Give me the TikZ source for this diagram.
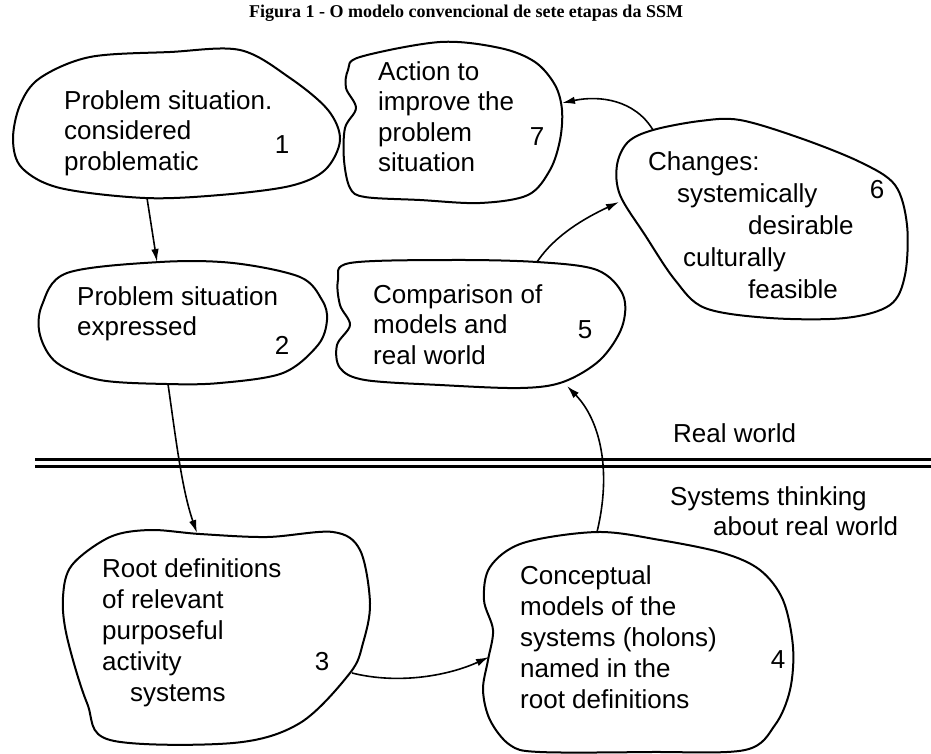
\documentclass[tikz,border=0pt]{standalone}
\usepackage{fontspec}
\setmainfont{Liberation Sans}
\newfontfamily\captionfont{Liberation Serif}
\usepackage{tikz}
\usetikzlibrary{arrows.meta}

\begin{document}
\begin{tikzpicture}[x=1pt, y=-1pt,
    font=\fontsize{26}{30.5}\selectfont,
    blob/.style={draw, line width=2pt, line join=round},
    txt/.style={anchor=north west, inner sep=0pt, align=left},
    num/.style={inner sep=0pt},
    flow/.style={line width=1.6pt, -{Latex[length=13pt, width=7.5pt]}}]
  \useasboundingbox (0,0) rectangle (931,753);

  \node[font=\captionfont\bfseries\fontsize{18}{20}\selectfont]
    (title) at (466,13) {Figura 1 - O modelo convencional de sete etapas da SSM};

  % the seven stages
  \draw[blob] plot[smooth cycle, tension=0.55] coordinates {
    (40,78) (90,57) (170,52) (240,50) (290,78) (328,110) (340,140)
    (325,170) (290,186) (220,195) (145,198) (60,188) (22,168) (13,140) (20,105)};
  \draw[blob] plot[smooth cycle, tension=0.55] coordinates {
    (67,273) (160,262) (233,263) (300,277) (322,300) (327,320) (318,345)
    (283,373) (220,383) (167,384) (100,380) (57,363) (40,335) (42,305)};
  \draw[blob] plot[smooth cycle, tension=0.55] coordinates {
    (110,537) (150,530) (200,534) (267,537) (333,532) (360,550) (370,603)
    (363,643) (350,673) (300,723) (233,743) (110,740) (87,703) (67,637)
    (63,597) (72,565)};
  \draw[blob] plot[smooth cycle, tension=0.55] coordinates {
    (597,532) (660,540) (723,553) (760,570) (783,600) (793,647) (790,690)
    (775,725) (745,750) (650,752) (540,752) (510,745) (490,720) (483,690)
    (488,660) (493,630) (484,600) (490,567) (523,543)};
  \draw[blob] plot[smooth cycle, tension=0.55] coordinates {
    (350,263) (450,260) (537,262) (597,270) (623,295) (622,327) (600,360)
    (563,382) (520,388) (440,385) (365,380) (340,368) (337,345) (350,325)
    (340,305) (338,280)};
  \draw[blob] plot[smooth cycle, tension=0.55] coordinates {
    (653,130) (700,121) (740,120) (800,138) (860,162) (895,185) (907,225)
    (905,275) (890,305) (845,318) (770,318) (705,308) (675,280) (645,235)
    (620,195) (617,165) (628,142)};
  \draw[blob] plot[smooth cycle, tension=0.55] coordinates {
    (360,57) (440,42) (500,48) (535,62) (555,85) (562,110) (560,140)
    (550,170) (528,195) (480,203) (420,200) (365,197) (350,188) (344,160)
    (345,128) (356,108) (346,88) (348,70)};

  \node[txt] (t1) at (64,90) {Problem situation.\\considered\\problematic};
  \node[txt] (t2) at (77,286) {Problem situation\\expressed};
  \node[txt, font=\fontsize{26}{31}\selectfont] (t3) at (102,558)
    {Root definitions\\of relevant\\purposeful\\activity\\\hspace*{28pt}systems};
  \node[txt, font=\fontsize{26}{31}\selectfont] (t4) at (520,565)
    {Conceptual\\models of the\\systems (holons)\\named in the\\root definitions};
  \node[txt] (t5) at (373,284) {Comparison of\\models and\\real world};
  \node[txt, font=\fontsize{26}{32}\selectfont] (t6) at (648,151)
    {Changes:\\\hspace*{29pt}systemically\\\hspace*{100pt}desirable\\
     \hspace*{35pt}culturally\\\hspace*{100pt}feasible};
  \node[txt] (t7) at (378,61) {Action to\\improve the\\problem\\situation};

  \node[num] (n1) at (282,145) {1};
  \node[num] (n2) at (282,345) {2};
  \node[num] (n3) at (322,662) {3};
  \node[num] (n4) at (778,660) {4};
  \node[num] (n5) at (585,330) {5};
  \node[num] (n6) at (877,190) {6};
  \node[num] (n7) at (537,137) {7};

  % real world / systems thinking
  \draw[line width=3pt] (35,459.5) -- (931,459.5);
  \draw[line width=3pt] (35,466) -- (931,466);
  \node[txt] (real) at (673,423) {Real world};
  \node[txt] (think) at (670,486) {Systems thinking\\\hspace*{43pt}about real world};

  \coordinate (out1) at (147,198);
  \coordinate (in2)  at (157,262);
  \coordinate (out2) at (168,384);
  \coordinate (in3)  at (197,533);
  \coordinate (out3) at (352,673);
  \coordinate (in4)  at (489,657);
  \coordinate (out4) at (597,532);
  \coordinate (in5)  at (567,386);
  \coordinate (out5) at (537,262);
  \coordinate (in6)  at (619,202);
  \coordinate (out6) at (653,130);
  \coordinate (in7)  at (562,103);

  \draw[flow] (out1) -- (in2);
  \draw[flow] (out2) .. controls (176,440) and (182,490) .. (in3);
  \draw[flow] (out3) .. controls (400,685) and (450,675) .. (in4);
  \draw[flow] (out4) .. controls (612,470) and (600,420) .. (in5);
  \draw[flow] (out5) .. controls (555,235) and (585,218) .. (in6);
  \draw[flow] (out6) .. controls (635,100) and (600,95) .. (in7);
\end{tikzpicture}
\end{document}
